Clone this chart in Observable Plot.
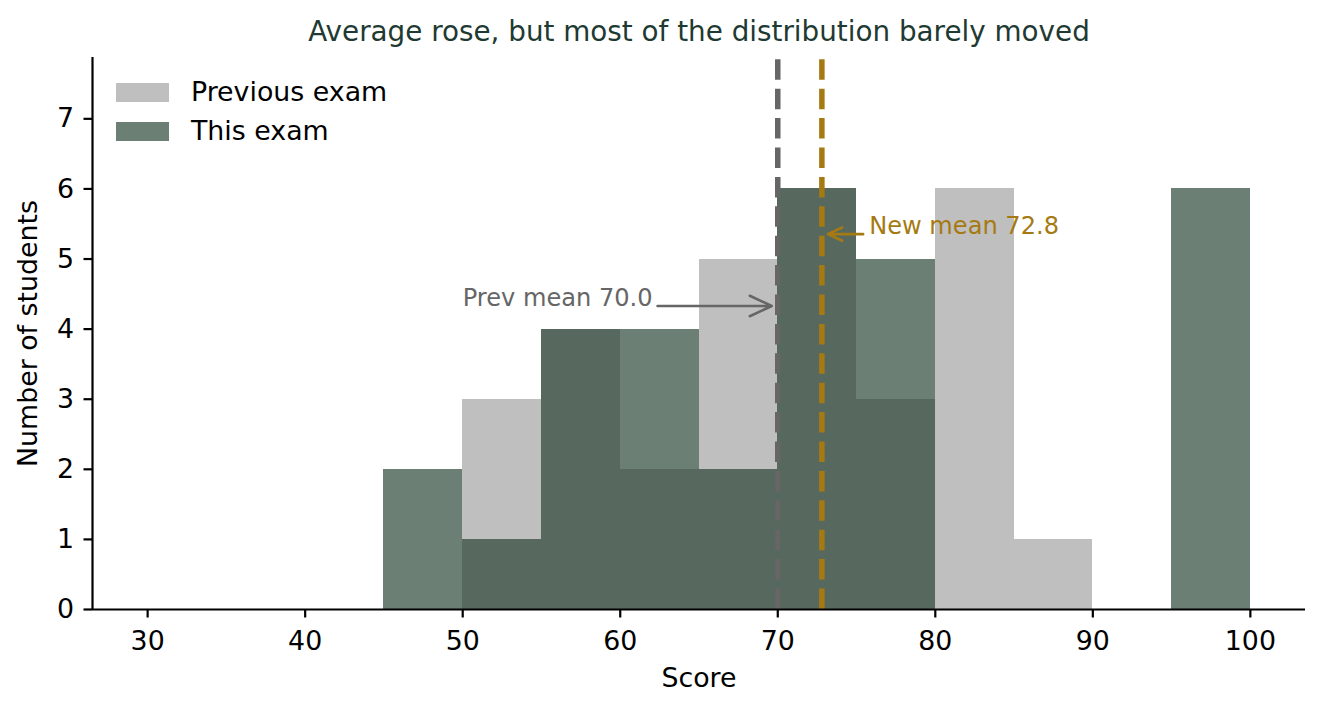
<!DOCTYPE html>
<html><head><meta charset="utf-8">
<script src="https://cdn.jsdelivr.net/npm/d3@7"></script>
<script src="https://cdn.jsdelivr.net/npm/@observablehq/plot@0.6"></script>
<style>
body{margin:0;background:#fff;font-family:"DejaVu Sans";}
#wrap{position:relative;width:1324px;height:710px;}
#legend{position:absolute;left:116px;top:72.5px;font-size:26.8px;color:#000;font-family:"DejaVu Sans";}
.row{display:flex;align-items:center;height:39px;}
.sw{width:53px;height:19px;margin-right:22px;flex:none;}
.lb{line-height:1;}
</style></head><body><div id="wrap"><div id="legend"></div></div>
<script>
// ---- data ----
const binStarts = [45, 50, 55, 60, 65, 70, 75, 80, 85, 90, 95];
const binWidth = 5;
const prevCounts = [0, 3, 4, 2, 5, 6, 3, 6, 1, 0, 0];
const thisCounts = [2, 1, 4, 4, 2, 6, 5, 0, 0, 0, 6];
const seriesNames = ["Previous exam", "This exam"];
const means = [70.0, 72.8];
const annLabels = ["Prev mean 70.0", "New mean 72.8"];
const annTextX = [50, 75.8];
const annY = [4.33, 5.355];
const xTicks = [30, 40, 50, 60, 70, 80, 90, 100];
const yTicks = [0, 1, 2, 3, 4, 5, 6, 7];
const xDomain = [26.5, 103.5];
const yDomain = [0, 7.875];
const titleText = "Average rose, but most of the distribution barely moved";
const xLabel = "Score";
const yLabel = "Number of students";

// ---- styles ----
const prevColor = "#bfbfbf";
const thisColor = "#6b7f75";
const overlapColor = "#57685f";
const meanColors = ["#666666", "#a67a12"];
const titleColor = "#1e3a32";
const fs = 26.8, annFs = 24.1, titleFs = 27.8;

const bins = binStarts.map((s, i) => ({
  x1: s, x2: s + binWidth,
  prev: prevCounts[i], cur: thisCounts[i],
  both: Math.min(prevCounts[i], thisCounts[i])
}));
const ann = annLabels.map((t, i) => ({label: t, tx: annTextX[i], px: means[i], y: annY[i], color: meanColors[i]}));

const ctx = document.createElement("canvas").getContext("2d");
ctx.font = `${annFs}px "DejaVu Sans"`;
const insetFor = a => a.tx < a.px ? ctx.measureText(a.label).width + 5 : 6;

const rectOpts = {x1: "x1", x2: "x2", y1: 0, inset: 0, shapeRendering: "crispEdges"};
const marks = [
  Plot.rectY(bins, {...rectOpts, y2: "prev", fill: prevColor}),
  Plot.rectY(bins, {...rectOpts, y2: "cur", fill: thisColor}),
  Plot.rectY(bins, {...rectOpts, y2: "both", fill: overlapColor}),
  ...means.map((m, i) => Plot.ruleX([m], {y1: yDomain[0], y2: yDomain[1], stroke: meanColors[i], strokeWidth: 5.5, strokeDasharray: "20.5,8.9"})),
  ...ann.map(a => Plot.text([a], {x: "tx", y: "y", text: "label", fill: a.color, fontSize: annFs, textAnchor: "start", lineAnchor: "bottom"})),
  ...ann.map(a => Plot.arrow([a], {x1: "tx", y1: "y", x2: "px", y2: "y", stroke: a.color, strokeWidth: 2.6, headLength: 14, headAngle: 50, insetStart: insetFor(a), insetEnd: 6})),
  Plot.ruleX([xDomain[0]], {stroke: "#000", strokeWidth: 2.2}),
  Plot.ruleY([yDomain[0]], {stroke: "#000", strokeWidth: 2.2}),
  Plot.axisX({ticks: xTicks, tickSize: 8.5, tickPadding: 13, fontSize: fs, strokeWidth: 2.2, label: xLabel, labelAnchor: "center", labelOffset: 77, labelArrow: "none"}),
  Plot.axisY({ticks: yTicks, tickSize: 8.5, tickPadding: 10, fontSize: fs, strokeWidth: 2.2, label: yLabel, labelAnchor: "center", labelOffset: 75, labelArrow: "none"}),
  Plot.text([titleText], {text: d => d, frameAnchor: "top", dy: -17, fontSize: titleFs, fill: titleColor, lineAnchor: "bottom"})
];

const chart = Plot.plot({
  width: 1324, height: 710,
  marginLeft: 92, marginRight: 19, marginTop: 57, marginBottom: 101,
  style: {fontFamily: "DejaVu Sans", background: "#fff", color: "#000"},
  x: {domain: xDomain},
  y: {domain: yDomain},
  marks
});
document.getElementById("wrap").prepend(chart);

const legend = document.getElementById("legend");
[prevColor, thisColor].forEach((c, i) => {
  const row = document.createElement("div"); row.className = "row";
  const sw = document.createElement("div"); sw.className = "sw"; sw.style.background = c;
  const lb = document.createElement("div"); lb.className = "lb"; lb.textContent = seriesNames[i];
  row.append(sw, lb); legend.append(row);
});
</script></body></html>
